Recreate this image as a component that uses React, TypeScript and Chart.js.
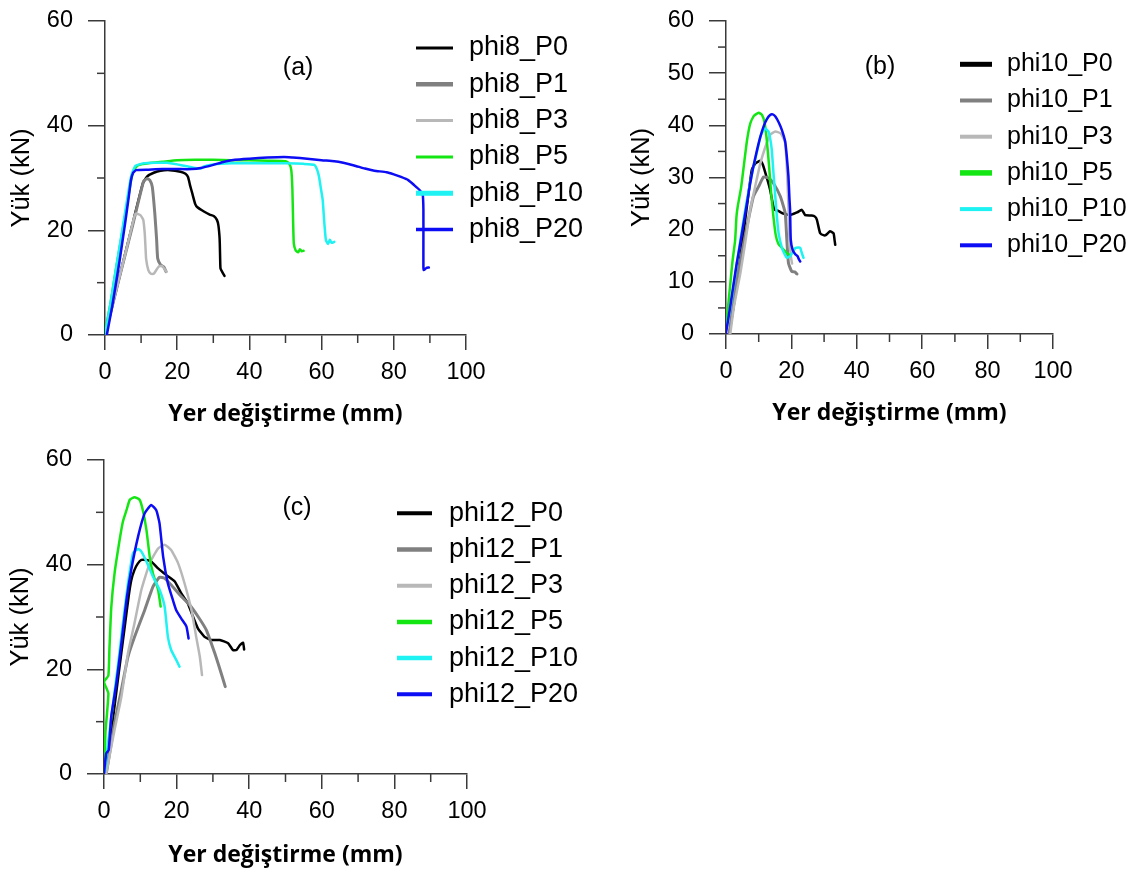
import React, { useEffect, useRef } from "react";
import { Chart, registerables } from "chart.js";

Chart.register(...registerables);

type Pt = [number, number];

// ---------- DATA ----------
const SERIES_SUFFIX = ["P0", "P1", "P3", "P5", "P10", "P20"];
const SERIES_COLORS = ["#000000", "#808080", "#b8b8b8", "#14e614", "#1ef2f2", "#0c0cf5"];

const X_TICK_STEP = 20;
const X_MINOR_TICKS = [10, 30, 50, 70, 90];
const Y_MINOR_TICKS_AC = [10, 30, 50];
const Y_MINOR_TICKS_B = [5, 15, 25, 35, 45, 55];

// (a) phi8
const phi8_P0: Pt[] = [[0,0],[3.6,10],[7.2,20],[10.5,29],[11.7,30.3],[13.5,31],[15.4,31.4],[18,31.5],[20.9,31.2],[22.3,30.8],[23,30.2],[23.6,28.5],[24.2,27],[25,25],[25.6,24.4],[27.4,23.6],[29,23],[30.2,22.7],[31,22],[31.4,21],[31.7,19],[31.8,17.5],[31.9,14.5],[32,12.7],[32.5,12],[33.1,11.3]];
const phi8_P1: Pt[] = [[0,0],[3.8,10.5],[7.5,20.5],[10.7,29.4],[11.7,29.9],[12.4,29.6],[13.1,28.3],[13.8,23.2],[14.3,18.2],[14.6,14.6],[15.4,13.4],[16.3,13],[16.9,12.1]];
const phi8_P3: Pt[] = [[0,0],[3,8.3],[6,16.6],[8,22.3],[8.6,23.2],[9.8,22.9],[10.6,22],[11,19.5],[11.2,17],[11.4,14.5],[12,12.4],[12.7,11.7],[13.5,11.7],[14.3,12.5],[14.9,13.1],[15.8,13.2],[16.5,12.6],[17,12.1]];
const phi8_P5: Pt[] = [[0,0.5],[1.5,6],[3,12.5],[5,20.5],[6.5,26.5],[7.5,30.5],[8.5,32],[9.5,32.5],[12,32.8],[16,33.1],[20,33.4],[25,33.5],[30,33.5],[35,33.4],[40,33.4],[45,33.3],[50,33.2],[51,32.8],[51.6,31.5],[51.9,28],[52.1,22],[52.3,17.5],[52.8,16.2],[53.5,15.8],[54,16.4],[54.5,16],[55,16.1]];
const phi8_P10: Pt[] = [[0,0],[1.5,6],[3,12.5],[5,21],[6.5,27.5],[7.3,30.5],[8.4,32.3],[10.7,32.8],[14,32.9],[17.2,32.9],[20,32.6],[23,32.2],[25,31.9],[26.5,31.8],[27.4,32.2],[30,32.6],[35,32.8],[40,32.8],[45,32.8],[50,32.8],[55,32.7],[58,32.5],[58.8,31.5],[59.3,30.2],[59.8,28],[60.3,25.8],[60.8,21],[61.2,18.1],[61.8,17.4],[62.3,18.2],[62.8,17.6],[63.5,17.8]];
const phi8_P20: Pt[] = [[0.5,0],[2,5.5],[4,14],[5.5,21],[6.6,26.5],[7.2,29.6],[7.8,31],[8.6,31.5],[12,31.6],[16,31.7],[20,31.7],[24,31.7],[26.5,31.9],[30,32.5],[33,33.1],[36,33.5],[40,33.7],[45,33.9],[49.6,34],[52,33.9],[56,33.7],[60,33.4],[63.5,33.2],[66,32.9],[69,32.4],[72,31.8],[74.6,31.4],[78,31.1],[80,30.7],[82,30.2],[84,29.6],[85.7,28.6],[87,27.8],[88,26.9],[88.2,24],[88.2,18],[88.2,13],[88.3,12.4],[89,12.8],[89.7,12.9]];

// (b) phi10
const phi10_P0: Pt[] = [[1,0],[2.5,6],[4,13],[5.5,20],[6.8,26.5],[7.9,31.5],[9,32.7],[10.5,33.2],[11.3,32.4],[12.5,29.9],[13.5,27.6],[14.3,25],[14.8,23.8],[16,23.6],[17.1,23.2],[19.6,22.8],[21.7,23.3],[23.2,23.8],[24.2,22.8],[26.2,22.7],[27.2,22.5],[27.8,21.9],[28.8,19.3],[30,18.9],[30.6,19],[31.8,19.7],[32.9,19.3],[33.2,18],[33.4,17.1]];
const phi10_P1: Pt[] = [[1,0],[1.8,4],[3.3,10.4],[5,16],[6.4,20.6],[8.4,26.4],[10,28.3],[11.5,30.1],[13,29.9],[14.5,28.9],[16.6,26.4],[18.1,23.2],[18.6,18.1],[19.1,13.6],[20.1,12],[21,11.9],[21.7,11.5]];
const phi10_P3: Pt[] = [[1.3,0],[2.5,5.5],[4.4,11.7],[6,18],[7.4,23.8],[9,28.5],[10.5,32.7],[12,35.8],[13.5,38.2],[15.1,38.8],[16.6,38.5],[17.6,37.5],[18.1,36.6],[18.6,32.1],[19.1,24.4],[19.4,18.1],[19.8,15],[20.2,13.5]];
const phi10_P5: Pt[] = [[0,0.8],[0.6,5],[1.3,9.5],[2,14],[2.8,18],[3.2,22.5],[3.6,24.5],[4.6,28],[5.5,32.5],[6.4,37],[7.4,40.3],[8.5,41.8],[10,42.4],[11,42],[11.8,40.5],[12.5,37],[13.2,32],[13.8,27],[14.5,22.5],[15.2,19],[16,17.3],[17.1,16.5],[18.6,15.5],[19.3,15.2]];
const phi10_P10: Pt[] = [[0.3,1.5],[1.3,5],[2.3,9.1],[3.3,13.5],[4.4,18.1],[5.4,22],[6.4,25.7],[7.4,29],[8.4,32.1],[9.5,35],[10.5,37.8],[11.3,38.9],[12,39.4],[13,38.8],[13.5,37.5],[14,35.3],[14.5,31],[15,27],[15.5,23],[16.1,19.3],[17.1,16.5],[18,15.2],[18.6,14.6],[19.6,14.9],[20.5,15.8],[21.2,16.5],[22.2,16.6],[22.7,16.5],[23.2,15.5],[23.7,14.6]];
const phi10_P20: Pt[] = [[0,0.2],[1.3,5.3],[2.3,9.5],[3.3,13.6],[4.4,17.5],[5.4,21.3],[6.4,25],[7.4,28.9],[8.4,32.2],[9.5,35.3],[10.5,37.8],[11.5,39.8],[12.5,41.2],[13.5,42],[14.3,42.1],[15.1,41.7],[16.1,40.6],[17.1,39.1],[18.1,36.9],[18.6,34],[19.1,30.2],[19.4,26],[19.6,23.8],[19.8,18.1],[20.4,16.1],[21.2,15.3],[21.9,14.9],[22.3,14.3],[22.7,13.9]];

// (c) phi12
const phi12_P0: Pt[] = [[0.5,0],[2,8],[4,19],[5.5,27],[6.8,34],[7.5,37],[8.4,39],[9.3,40.2],[10.3,40.9],[11.7,40.9],[13,40.6],[14.9,39.3],[17.2,38],[19.5,36.8],[21.3,34.5],[23.1,32.6],[24.5,30.1],[25.9,27.8],[27.7,26.2],[29.6,25.6],[31.9,25.6],[34.2,25],[35.5,23.7],[36.5,23.7],[37.4,24.6],[38.3,25.1],[38.6,23.8]];
const phi12_P1: Pt[] = [[0.6,0],[1.8,5],[2.9,9.7],[4.8,16.1],[6.6,22.4],[8.4,26.2],[11.2,31.3],[13.5,35.8],[15.3,37.6],[16.7,37.4],[18.5,36.1],[21.3,33.9],[23.6,32.3],[25.9,30.1],[28.2,27.5],[30.5,23.1],[32.3,19.2],[33.4,16.7]];
const phi12_P3: Pt[] = [[0.6,0],[1.8,4.5],[2.9,8.4],[4.8,14.8],[6.6,23.1],[8.4,28.8],[10.3,35.2],[12.6,40.3],[14.9,43.1],[16.7,43.8],[18.5,42.8],[20.4,40.3],[22.2,36.4],[24.1,31.3],[25.4,26.2],[26.4,22.4],[27,18.9]];
const phi12_P5: Pt[] = [[0,0.5],[0.4,8],[1.2,15.4],[0,17.6],[1.2,18.8],[1.5,24],[2,31.8],[2.9,38.3],[4.3,44.7],[5.2,48.2],[6.2,50.4],[7.1,52.4],[8.4,52.9],[9.8,52.4],[10.7,50.4],[11.7,46.6],[12.6,41.5],[13.5,38.3],[14.9,35.2],[15.6,32]];
const phi12_P10: Pt[] = [[0.2,0.5],[1.1,5.9],[2.5,13.5],[3.9,21.1],[5.2,28.8],[6.6,36.4],[8,42.2],[9.4,43],[10.3,42.5],[11.7,40.6],[13.5,37.7],[15.3,35.2],[16.7,32],[17.6,26.2],[18.5,23.7],[19.9,21.8],[20.8,20.5]];
const phi12_P20: Pt[] = [[0,0.1],[0.6,3.9],[1.3,4.6],[2,11],[3.4,17.3],[4.8,25],[6.2,33.2],[7.5,39],[9.4,45.4],[11.2,49.8],[13,51.4],[14.4,50.4],[15.3,47.9],[16.3,41.5],[17.6,36.4],[19,33.2],[19.9,31.3],[21.3,29.7],[22.7,28.2],[23.3,25.9]];

const SERIES_A = [phi8_P0, phi8_P1, phi8_P3, phi8_P5, phi8_P10, phi8_P20];
const SERIES_B = [phi10_P0, phi10_P1, phi10_P3, phi10_P5, phi10_P10, phi10_P20];
const SERIES_C = [phi12_P0, phi12_P1, phi12_P3, phi12_P5, phi12_P10, phi12_P20];

const X_TITLE = "Yer değiştirme (mm)";
const Y_TITLE = "Yük (kN)";

// ---------- STYLE ----------
const FONT = '"Liberation Sans", Arial, sans-serif';
const TITLE_FONT = '"Open Sans", "Liberation Sans", sans-serif';
const AXIS_COLOR = "#3a3a3a";
const TEXT_COLOR = "#000000";

const minorTicksPlugin = {
  id: "minorTicks",
  afterDraw(chart: any, _args: any, opts: any) {
    const { ctx } = chart;
    const xs = chart.scales.x;
    const ys = chart.scales.y;
    ctx.save();
    ctx.strokeStyle = AXIS_COLOR;
    ctx.lineWidth = 1.5;
    for (const v of opts.x || []) {
      const px = xs.getPixelForValue(v);
      ctx.beginPath();
      ctx.moveTo(px, xs.top);
      ctx.lineTo(px, xs.top + opts.len);
      ctx.stroke();
    }
    for (const v of opts.y || []) {
      const py = ys.getPixelForValue(v);
      ctx.beginPath();
      ctx.moveTo(ys.right, py);
      ctx.lineTo(ys.right - opts.len, py);
      ctx.stroke();
    }
    ctx.restore();
  },
};

const sideLegendPlugin = {
  id: "sideLegend",
  afterDraw(chart: any, _args: any, opts: any) {
    const { ctx } = chart;
    ctx.save();
    chart.data.datasets.forEach((ds: any, i: number) => {
      const y = opts.y0 + i * opts.dy;
      ctx.strokeStyle = ds.borderColor;
      ctx.lineWidth = opts.widths[i];
      ctx.lineCap = "butt";
      ctx.beginPath();
      ctx.moveTo(opts.x0, y);
      ctx.lineTo(opts.x1, y);
      ctx.stroke();
      ctx.fillStyle = TEXT_COLOR;
      ctx.font = `${opts.size}px ${FONT}`;
      ctx.textBaseline = "middle";
      ctx.textAlign = "left";
      ctx.fillText(ds.label, opts.tx, y);
    });
    ctx.restore();
  },
};

const panelLabelPlugin = {
  id: "panelLabel",
  afterDraw(chart: any, _args: any, opts: any) {
    const { ctx } = chart;
    const px = chart.scales.x.getPixelForValue(opts.at[0]);
    const py = chart.scales.y.getPixelForValue(opts.at[1]);
    ctx.save();
    ctx.fillStyle = TEXT_COLOR;
    ctx.font = `${opts.size}px ${FONT}`;
    ctx.textAlign = "center";
    ctx.textBaseline = "middle";
    ctx.fillText(opts.text, px, py);
    ctx.restore();
  },
};

type PanelProps = {
  prefix: string;
  series: Pt[][];
  left: number;
  top: number;
  width: number;
  height: number;
  area: { left: number; right: number; top: number; bottom: number };
  yStep: number;
  yMinor: number[];
  yTitlePad: number;
  xTitlePad: number;
  label: string;
  labelAt: [number, number];
  legend: { x0: number; x1: number; tx: number; y0: number; dy: number; size: number; widths: number[] };
};

function Panel(p: PanelProps) {
  const ref = useRef<HTMLCanvasElement>(null);
  useEffect(() => {
    if (!ref.current) return;
    const datasets = p.series.map((pts, i) => ({
      label: `${p.prefix}_${SERIES_SUFFIX[i]}`,
      data: pts.map(([x, y]) => ({ x, y })),
      borderColor: SERIES_COLORS[i],
      backgroundColor: SERIES_COLORS[i],
      borderWidth: i === 1 ? 3 : 2.5,
      pointRadius: 0,
      showLine: true,
      tension: 0.15,
      fill: false,
      borderJoinStyle: "round",
      borderCapStyle: "round",
      order: p.series.length - i,
    }));
    const chart = new Chart(ref.current, {
      type: "scatter",
      data: { datasets } as any,
      options: {
        responsive: false,
        animation: false,
        layout: { padding: { left: 0, top: p.area.top, right: p.width - p.area.right, bottom: 0 } },
        plugins: {
          legend: { display: false },
          tooltip: { enabled: false },
          minorTicks: { x: X_MINOR_TICKS, y: p.yMinor, len: 8 },
          sideLegend: p.legend,
          panelLabel: { text: p.label, at: p.labelAt, size: 25 },
        } as any,
        scales: {
          x: {
            type: "linear",
            position: "bottom",
            min: 0,
            max: 100,
            ticks: { stepSize: X_TICK_STEP, font: { family: FONT, size: 23.5 }, color: TEXT_COLOR, padding: 8.5, maxRotation: 0, autoSkip: false },
            grid: { display: true, drawOnChartArea: false, drawTicks: true, tickLength: 15, color: AXIS_COLOR, lineWidth: 1.5 },
            border: { display: true, color: AXIS_COLOR, width: 1.5 },
            title: { display: true, text: X_TITLE, color: TEXT_COLOR, font: { family: TITLE_FONT, weight: "bold", size: 23 }, padding: { top: 0, bottom: p.xTitlePad } },
            afterFit: (s: any) => {
              s.height = p.height - p.area.bottom;
              s.paddingLeft = 0;
              s.paddingRight = 0;
            },
          },
          y: {
            type: "linear",
            position: "left",
            min: 0,
            max: 60,
            ticks: { stepSize: p.yStep, font: { family: FONT, size: 23.5 }, color: TEXT_COLOR, padding: 15 },
            grid: { display: true, drawOnChartArea: false, drawTicks: true, tickLength: 17, color: AXIS_COLOR, lineWidth: 1.5 },
            border: { display: true, color: AXIS_COLOR, width: 1.5 },
            title: { display: true, text: Y_TITLE, color: TEXT_COLOR, font: { family: FONT, size: 25.5 }, padding: { top: p.yTitlePad, bottom: 0 } },
            afterFit: (s: any) => {
              s.width = p.area.left;
              s.paddingTop = 0;
              s.paddingBottom = 0;
            },
          },
        },
      } as any,
      plugins: [minorTicksPlugin, sideLegendPlugin, panelLabelPlugin],
    });
    return () => chart.destroy();
  }, []);
  return (
    <canvas
      ref={ref}
      width={p.width}
      height={p.height}
      style={{ position: "absolute", left: p.left, top: p.top, width: p.width, height: p.height }}
    />
  );
}

export default function App() {
  return (
    <div style={{ position: "absolute", left: 0, top: 0, width: 1140, height: 871, background: "#ffffff", overflow: "hidden" }}>
      <Panel
        prefix="phi8"
        series={SERIES_A}
        left={0}
        top={0}
        width={600}
        height={435}
        area={{ left: 105, right: 466, top: 21, bottom: 335 }}
        yStep={20}
        yMinor={Y_MINOR_TICKS_AC}
        yTitlePad={6.7}
        xTitlePad={6.7}
        label="(a)"
        labelAt={[53.5, 51]}
        legend={{ x0: 416, x1: 453, tx: 469, y0: 48, dy: 36.3, size: 27, widths: [3, 4.5, 3, 3, 5, 3.5] }}
      />
      <Panel
        prefix="phi10"
        series={SERIES_B}
        left={600}
        top={0}
        width={540}
        height={435}
        area={{ left: 126, right: 453, top: 21, bottom: 334 }}
        yStep={10}
        yMinor={Y_MINOR_TICKS_B}
        yTitlePad={26.4}
        xTitlePad={8}
        label="(b)"
        labelAt={[47.1, 51.2]}
        legend={{ x0: 360, x1: 392, tx: 407, y0: 64.3, dy: 36.2, size: 25, widths: [5, 4, 4, 5.5, 4, 4] }}
      />
      <Panel
        prefix="phi12"
        series={SERIES_C}
        left={0}
        top={439}
        width={600}
        height={432}
        area={{ left: 104, right: 467, top: 21, bottom: 335 }}
        yStep={20}
        yMinor={Y_MINOR_TICKS_AC}
        yTitlePad={6}
        xTitlePad={2.2}
        label="(c)"
        labelAt={[53.2, 50.8]}
        legend={{ x0: 397, x1: 432, tx: 449, y0: 74.3, dy: 36.2, size: 27, widths: [4, 4.5, 4, 4.5, 4.5, 4] }}
      />
    </div>
  );
}
